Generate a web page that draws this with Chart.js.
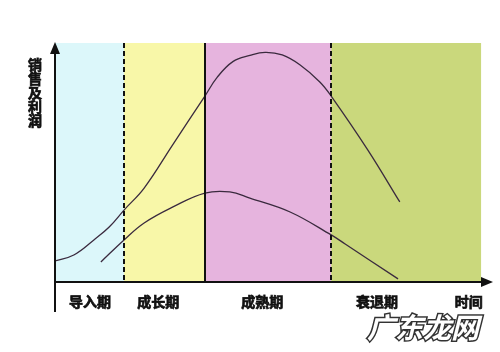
<!DOCTYPE html>
<html>
<head>
<meta charset="utf-8">
<script src="https://cdn.jsdelivr.net/npm/chart.js@4"></script>
<style>
  body { margin: 0; background: #fff; }
  canvas { display: block; }
</style>
</head>
<body>
<canvas id="lifeChart" width="500" height="352"></canvas>
<script>
// time axis 0..100 (y axis -> arrow tip), value axis 0..100 (x axis -> arrow tip)
const phaseNames = ['导入期', '成长期', '成熟期', '衰退期'];
const phaseEdges = [0, 15.8, 34.3, 63.2, 97.5];
const phaseLabelAt = [8.0, 23.6, 47.4, 73.7];
const phaseColors = ['#dcf7fa', '#f8f7a8', '#e6b4de', '#cad87c'];
const phaseLineDash = [true, false, true];

const salesX = [0, 4.3, 8.9, 12.4, 15.8, 20.4, 27, 34.3, 37.1, 40.7, 44.6, 48.1, 52, 56.1, 60.6, 63.2, 71.6, 78.9];
const salesY = [8.8, 11.3, 17.6, 23, 30.1, 39.3, 57.6, 77.8, 85.6, 92.2, 94.8, 96.1, 95, 90.8, 83.7, 77.8, 55.2, 33.5];

const profitX = [10.5, 15.8, 20.4, 27, 34.3, 40, 44.6, 53.8, 63.2, 66.4, 78.5];
const profitY = [8.4, 17.6, 24.7, 31.4, 37.2, 37.7, 35.1, 29.3, 19.7, 15.9, 1.3];

const axisTitleY = '销售及利润';
const axisTitleX = '时间';
const timeLabelAt = 94.7;

const toPoints = (xs, ys) => xs.map((x, i) => ({ x: x, y: ys[i] }));

function boldText(ctx, text, px, py) {
  ctx.strokeText(text, px, py);
  ctx.fillText(text, px, py);
}

const lifecycle = {
  id: 'lifecycle',
  beforeDatasetsDraw(chart) {
    const { ctx, scales: { x, y } } = chart;
    ctx.save();
    for (let i = 0; i < phaseNames.length; i++) {
      const x0 = x.getPixelForValue(phaseEdges[i]);
      const x1 = x.getPixelForValue(phaseEdges[i + 1]);
      ctx.fillStyle = phaseColors[i];
      ctx.fillRect(x0, y.getPixelForValue(100), x1 - x0, y.getPixelForValue(0) - y.getPixelForValue(100));
    }
    ctx.restore();
  },
  afterDatasetsDraw(chart) {
    const { ctx, scales: { x, y } } = chart;
    const x0 = x.getPixelForValue(0), y0 = y.getPixelForValue(0);
    const xEnd = x.getPixelForValue(100), yTop = y.getPixelForValue(100);
    ctx.save();
    // dividers
    ctx.strokeStyle = '#111';
    ctx.lineWidth = 2;
    for (let i = 1; i < phaseNames.length; i++) {
      const px = Math.round(x.getPixelForValue(phaseEdges[i]));
      ctx.setLineDash(phaseLineDash[i - 1] ? [5, 3] : []);
      ctx.beginPath();
      ctx.moveTo(px, yTop);
      ctx.lineTo(px, y0);
      ctx.stroke();
    }
    ctx.setLineDash([]);
    // axes
    ctx.lineWidth = 2;
    ctx.beginPath();
    ctx.moveTo(x0, y0 + 30);
    ctx.lineTo(x0, yTop + 6);
    ctx.moveTo(x0, y0);
    ctx.lineTo(xEnd - 6, y0);
    ctx.stroke();
    ctx.fillStyle = '#111';
    ctx.beginPath();
    ctx.moveTo(x0, yTop - 1);
    ctx.lineTo(x0 - 5, yTop + 11);
    ctx.lineTo(x0 + 5, yTop + 11);
    ctx.closePath();
    ctx.fill();
    ctx.beginPath();
    ctx.moveTo(xEnd + 1, y0);
    ctx.lineTo(xEnd - 11, y0 - 5);
    ctx.lineTo(xEnd - 11, y0 + 5);
    ctx.closePath();
    ctx.fill();
    // labels
    ctx.font = 'bold 14px "Noto Sans CJK SC"';
    ctx.textAlign = 'center';
    ctx.textBaseline = 'middle';
    ctx.lineWidth = 0.7;
    ctx.strokeStyle = '#111';
    phaseNames.forEach((name, i) => {
      boldText(ctx, name, x.getPixelForValue(phaseLabelAt[i]), y0 + 20);
    });
    boldText(ctx, axisTitleX, x.getPixelForValue(timeLabelAt), y0 + 20);
    [...axisTitleY].forEach((ch, i) => {
      boldText(ctx, ch, x0 - 20, yTop + 22 + i * 13.8);
    });
    // watermark
    ctx.font = 'italic bold 28px "Noto Sans CJK SC"';
    ctx.textAlign = 'left';
    ctx.lineWidth = 3;
    ctx.strokeStyle = '#333';
    ctx.strokeText('广东龙网', 367, y0 + 45);
    ctx.fillStyle = '#fff';
    ctx.fillText('广东龙网', 367, y0 + 45);
    ctx.restore();
  }
};

new Chart(document.getElementById('lifeChart'), {
  type: 'line',
  data: {
    datasets: [
      {
        label: '销售',
        data: toPoints(salesX, salesY),
        borderColor: '#3a2a3e',
        borderWidth: 1.3,
        pointRadius: 0,
        tension: 0.4,
        fill: false
      },
      {
        label: '利润',
        data: toPoints(profitX, profitY),
        borderColor: '#3a2a3e',
        borderWidth: 1.3,
        pointRadius: 0,
        tension: 0.4,
        fill: false
      }
    ]
  },
  options: {
    responsive: false,
    animation: false,
    layout: { padding: { left: 55, right: 8, top: 43, bottom: 70 } },
    plugins: { legend: { display: false }, tooltip: { enabled: false } },
    scales: {
      x: { type: 'linear', min: 0, max: 100, display: false },
      y: { min: 0, max: 100, display: false }
    }
  },
  plugins: [lifecycle]
});
</script>
</body>
</html>
